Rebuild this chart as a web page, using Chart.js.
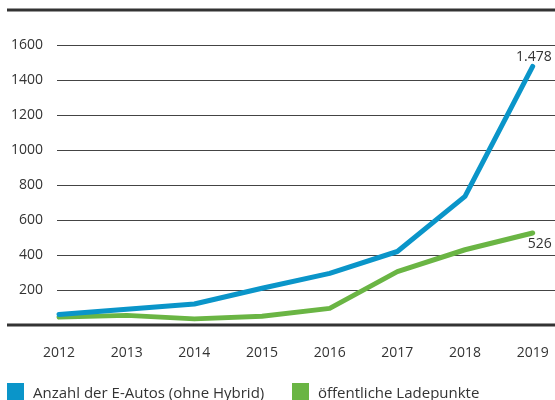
<!DOCTYPE html>
<html>
<head>
<meta charset="utf-8">
<script src="https://cdn.jsdelivr.net/npm/chart.js@4"></script>
<style>
  body { margin: 0; background: #fff; font-family: "Open Sans", sans-serif; }
  #wrap { position: relative; width: 555px; height: 400px; overflow: hidden; }
  .leg { position: absolute; top: 383px; font-size: 15px; color: #333; white-space: nowrap; line-height: 18px; }
  .leg span { display: inline-block; width: 17px; height: 17px; vertical-align: top; margin-right: 9px; }
</style>
</head>
<body>
<div id="wrap">
  <canvas id="lineChart" width="555" height="400"></canvas>
  <div class="leg" style="left:7px"><span style="background:#0a95c9"></span>Anzahl der E-Autos (ohne Hybrid)</div>
  <div class="leg" style="left:292px"><span style="background:#6ab544"></span>öffentliche Ladepunkte</div>
</div>
<script>
// Daten
var years = [2012, 2013, 2014, 2015, 2016, 2017, 2018, 2019];
var eAutos = [60, 90, 120, 210, 295, 420, 735, 1478];
var ladepunkte = [45, 55, 35, 50, 95, 305, 430, 526];
var yTicks = [200, 400, 600, 800, 1000, 1200, 1400, 1600];

function fmt(v) {
    return String(v).replace(/\B(?=(\d{3})+(?!\d))/g, '.');
}

// dicke Linien oben und unten (0 und 1800)
var frameLines = {
    id: 'frameLines',
    afterDatasetsDraw: function(chart) {
        var c = chart.ctx, y = chart.scales.y, area = chart.chartArea;
        c.save();
        c.strokeStyle = '#333';
        c.lineWidth = 3;
        [y.min, y.max].forEach(function(v) {
            var py = Math.round(y.getPixelForValue(v));
            c.beginPath();
            c.moveTo(7, py);
            c.lineTo(area.right, py);
            c.stroke();
        });
        c.restore();
    }
};

// Wert am Ende jeder Linie
var endLabels = {
    id: 'endLabels',
    afterDatasetsDraw: function(chart) {
        var c = chart.ctx;
        c.save();
        c.font = '14px "Open Sans"';
        c.fillStyle = '#333';
        c.textAlign = 'right';
        chart.data.datasets.forEach(function(ds, i) {
            var pts = chart.getDatasetMeta(i).data;
            var p = pts[pts.length - 1];
            var v = ds.data[ds.data.length - 1].y;
            if (i === 0) {
                c.textBaseline = 'bottom';
                c.fillText(fmt(v), p.x + 19, p.y - 2);
            } else {
                c.textBaseline = 'top';
                c.fillText(fmt(v), p.x + 19, p.y + 4);
            }
        });
        c.restore();
    }
};

function toPoints(vals) {
    return years.map(function(yr, i) { return { x: yr, y: vals[i] }; });
}

Chart.defaults.font.family = '"Open Sans", sans-serif';
Chart.defaults.font.size = 14;
Chart.defaults.color = '#333';

new Chart(document.getElementById('lineChart').getContext('2d'), {
    type: 'line',
    data: {
        datasets: [
            {
                label: 'Anzahl der E-Autos (ohne Hybrid)',
                data: toPoints(eAutos),
                borderColor: '#0a95c9',
                backgroundColor: '#0a95c9'
            },
            {
                label: 'öffentliche Ladepunkte',
                data: toPoints(ladepunkte),
                borderColor: '#6ab544',
                backgroundColor: '#6ab544'
            }
        ]
    },
    options: {
        responsive: false,
        animation: false,
        clip: false,
        elements: {
            line: { borderWidth: 5, tension: 0, borderCapStyle: 'round', borderJoinStyle: 'round' },
            point: { radius: 0, hoverRadius: 0 }
        },
        layout: { padding: { left: 7, top: 10, right: 0, bottom: 35 } },
        plugins: {
            legend: { display: false },
            tooltip: { enabled: false }
        },
        scales: {
            x: {
                type: 'linear',
                min: 2011.97,
                max: 2019.33,
                afterBuildTicks: function(s) { s.ticks = years.map(function(v) { return { value: v }; }); },
                afterFit: function(s) { s.height = 40; s.paddingLeft = 0; s.paddingRight = 0; },
                ticks: { padding: 12, maxRotation: 0, callback: function(v) { return String(v); } },
                grid: { display: false },
                border: { display: false }
            },
            y: {
                min: 0,
                max: 1800,
                afterBuildTicks: function(s) { s.ticks = yTicks.map(function(v) { return { value: v }; }); },
                afterFit: function(s) { s.width = 50; s.paddingTop = 0; s.paddingBottom = 0; },
                ticks: { padding: 14, callback: function(v) { return String(v); } },
                grid: { color: '#444', lineWidth: 1, drawTicks: false },
                border: { display: false }
            }
        }
    },
    plugins: [frameLines, endLabels]
});
</script>
</body>
</html>
